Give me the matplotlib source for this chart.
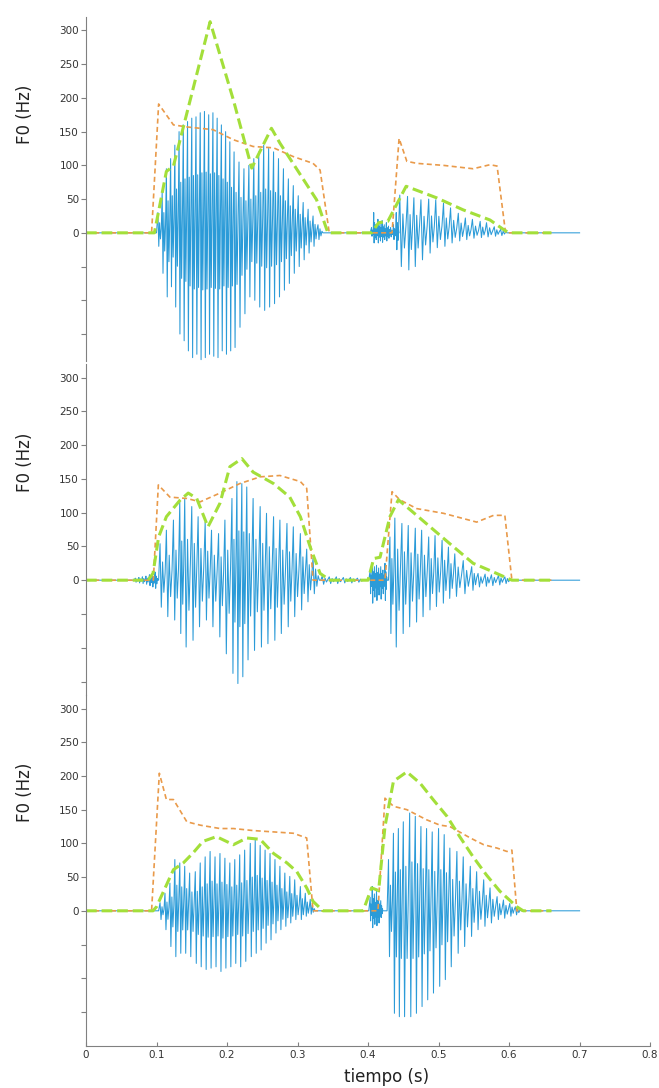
import numpy as np
import matplotlib.pyplot as plt

# ---- datos ----
# panel 1
p1_w1_t = [0.102, 0.108, 0.114, 0.120, 0.126, 0.132, 0.138, 0.144, 0.150, 0.156, 0.162, 0.168,
           0.174, 0.180, 0.186, 0.192, 0.198, 0.204, 0.210, 0.217, 0.224, 0.231, 0.238, 0.245,
           0.252, 0.259, 0.266, 0.273, 0.280, 0.287, 0.294, 0.301, 0.308, 0.315, 0.322, 0.329]
p1_w1_top = [30, 60, 95, 110, 130, 150, 160, 165, 170, 172, 178, 180, 175, 178, 170, 160, 150, 135,
             120, 105, 95, 100, 110, 120, 130, 125, 120, 110, 95, 80, 70, 55, 45, 35, 25, 12]
p1_w1_bot = [-20, -60, -95, -80, -110, -150, -160, -175, -185, -180, -188, -185, -180, -183, -185,
             -175, -180, -175, -170, -140, -120, -95, -100, -110, -115, -110, -105, -95, -85, -75,
             -60, -50, -40, -30, -20, -10]
p1_b_t = [0.405, 0.408, 0.411, 0.414, 0.417, 0.420, 0.423, 0.426, 0.429, 0.432, 0.436, 0.440]
p1_b_top = [8, 30, 12, 20, 15, 18, 12, 15, 10, 8, 12, 30]
p1_b_bot = [-5, -15, -10, -15, -12, -14, -10, -12, -8, -6, -10, -25]
p1_w2_t = [0.445, 0.456, 0.465, 0.475, 0.486, 0.496, 0.507, 0.517, 0.528, 0.538, 0.548, 0.559,
           0.568, 0.579, 0.588]
p1_w2_top = [56, 54, 52, 49, 50, 49, 44, 37, 29, 22, 20, 17, 15, 9, 5]
p1_w2_bot = [-50, -55, -50, -40, -30, -22, -20, -15, -12, -10, -8, -7, -6, -5, -4]

p1_f0_t = [0, 0.093, 0.103, 0.124, 0.143, 0.18, 0.209, 0.237, 0.266, 0.294, 0.322, 0.332, 0.345,
           0.434, 0.444, 0.455, 0.469, 0.507, 0.549, 0.573, 0.583, 0.595, 0.66]
p1_f0 = [0, 0, 191, 160, 157, 153, 138, 128, 126, 113, 103, 93, 0,
         0, 140, 106, 103, 100, 95, 101, 99, 0, 0]
p1_env_t = [0, 0.097, 0.114, 0.124, 0.176, 0.209, 0.235, 0.263, 0.275, 0.327, 0.343,
            0.405, 0.415, 0.428, 0.454, 0.497, 0.535, 0.573, 0.592, 0.6, 0.66]
p1_env = [0, 0, 91, 99, 313, 197, 96, 155, 133, 49, 0,
          0, 15, 17, 69, 52, 34, 19, 5, 0, 0]

# panel 2
p2_b0_t = [0.070, 0.075, 0.080, 0.085, 0.090, 0.094, 0.098]
p2_b0_top = [3, 4, 5, 6, 8, 10, 12]
p2_b0_bot = [-3, -4, -5, -6, -8, -10, -12]
p2_w1_t = [0.105, 0.114, 0.124, 0.133, 0.140, 0.150, 0.159, 0.169, 0.178, 0.188, 0.197, 0.207,
           0.214, 0.221, 0.228, 0.237, 0.247, 0.256, 0.266, 0.275, 0.285, 0.294, 0.304, 0.313, 0.322]
p2_w1_top = [54, 74, 89, 116, 121, 109, 94, 86, 74, 69, 89, 121, 146, 143, 138, 121, 109, 99, 94,
             89, 84, 79, 69, 46, 33]
p2_w1_bot = [-40, -54, -59, -79, -99, -89, -69, -59, -69, -84, -109, -138, -153, -143, -118, -104,
             -99, -94, -89, -79, -69, -54, -44, -32, -20]
p2_r_t = [0.335, 0.345, 0.355, 0.365, 0.375, 0.385]
p2_r_top = [6, 5, 5, 4, 4, 3]
p2_r_bot = [-6, -5, -5, -4, -4, -3]
p2_b_t = [0.403, 0.406, 0.409, 0.412, 0.415, 0.418, 0.421, 0.424]
p2_b_top = [15, 25, 20, 22, 18, 20, 15, 25]
p2_b_bot = [-20, -34, -25, -30, -22, -28, -20, -30]
p2_w2_t = [0.431, 0.438, 0.448, 0.457, 0.467, 0.476, 0.486, 0.495, 0.505, 0.514, 0.523, 0.535,
           0.547, 0.556, 0.566, 0.575, 0.585, 0.594]
p2_w2_top = [64, 92, 84, 81, 77, 74, 64, 66, 59, 49, 39, 29, 20, 10, 9, 8, 7, 5]
p2_w2_bot = [-79, -99, -79, -69, -62, -54, -44, -39, -34, -27, -24, -20, -15, -10, -9, -8, -7, -5]

p2_f0_t = [0, 0.0955, 0.1026, 0.119, 0.143, 0.162, 0.19, 0.218, 0.247, 0.275, 0.304, 0.313, 0.322,
           0.424, 0.434, 0.445, 0.469, 0.507, 0.554, 0.578, 0.594, 0.604, 0.66]
p2_f0 = [0, 0, 141, 123, 121, 116, 129, 143, 153, 155, 146, 136, 0,
         0, 131, 119, 106, 99, 86, 96, 96, 0, 0]
p2_env_t = [0, 0.088, 0.095, 0.103, 0.114, 0.133, 0.145, 0.157, 0.173, 0.19, 0.204, 0.221, 0.237,
            0.266, 0.289, 0.304, 0.318, 0.332, 0.346, 0.40, 0.408, 0.417, 0.431, 0.443, 0.46,
            0.488, 0.516, 0.549, 0.578, 0.604, 0.66]
p2_env = [0, 0, 10, 64, 94, 118, 129, 121, 79, 114, 168, 180, 160,
          143, 123, 94, 49, 10, 0, 0, 32, 34, 94, 119, 104,
          79, 54, 25, 12, 0, 0]

# panel 3
p3_w1_t = [0.105, 0.112, 0.119, 0.126, 0.133, 0.140, 0.147, 0.155, 0.162, 0.169, 0.176, 0.183,
           0.190, 0.197, 0.204, 0.211, 0.218, 0.225, 0.233, 0.240, 0.247, 0.254, 0.261, 0.268,
           0.275, 0.282, 0.289, 0.296, 0.304, 0.311, 0.318]
p3_w1_top = [12, 26, 41, 76, 71, 66, 56, 58, 71, 80, 88, 80, 85, 78, 71, 76, 83, 90, 100, 105, 97,
             90, 85, 76, 66, 56, 51, 46, 36, 26, 17]
p3_w1_bot = [-13, -28, -53, -68, -63, -63, -68, -78, -83, -87, -85, -83, -90, -85, -83, -78, -83,
             -75, -68, -63, -58, -48, -43, -33, -28, -23, -18, -13, -13, -8, -5]
p3_b_t = [0.403, 0.406, 0.409, 0.412, 0.415, 0.418]
p3_b_top = [20, 36, 25, 30, 20, 15]
p3_b_bot = [-15, -25, -20, -22, -18, -10]
p3_w2_t = [0.429, 0.436, 0.443, 0.450, 0.459, 0.467, 0.475, 0.483, 0.491, 0.500, 0.508, 0.516,
           0.526, 0.535, 0.545, 0.554, 0.564, 0.573, 0.583, 0.592, 0.601, 0.609]
p3_w2_top = [76, 115, 122, 132, 145, 140, 125, 122, 117, 122, 113, 93, 88, 80, 66, 58, 46, 34, 21,
             16, 11, 6]
p3_w2_bot = [-68, -152, -157, -157, -157, -152, -142, -132, -122, -112, -102, -83, -63, -53, -38,
             -28, -23, -18, -13, -11, -8, -6]

p3_f0_t = [0, 0.093, 0.104, 0.114, 0.124, 0.143, 0.162, 0.19, 0.209, 0.237, 0.266, 0.294, 0.313,
           0.322, 0.414, 0.424, 0.436, 0.455, 0.483, 0.502, 0.516, 0.545, 0.564, 0.583, 0.597,
           0.604, 0.611, 0.66]
p3_f0 = [0, 0, 204, 165, 165, 132, 127, 122, 122, 119, 117, 115, 108,
         0, 0, 167, 155, 150, 135, 127, 125, 108, 98, 93, 88,
         90, 0, 0]
p3_env_t = [0, 0.095, 0.1, 0.124, 0.138, 0.152, 0.166, 0.185, 0.209, 0.228, 0.247, 0.266, 0.285,
            0.299, 0.313, 0.322, 0.336, 0.393, 0.405, 0.415, 0.424, 0.436, 0.455, 0.474, 0.493,
            0.512, 0.53, 0.549, 0.568, 0.587, 0.611, 0.62, 0.66]
p3_env = [0, 0, 6, 61, 71, 86, 103, 110, 98, 108, 106, 85, 71,
          58, 34, 14, 0, 0, 34, 30, 125, 192, 206, 189, 164,
          140, 110, 80, 53, 29, 6, 0, 0]

yticks = [-150, -100, -50, 0, 50, 100, 150, 200, 250, 300]
ytick_labels = ['', '', '', '0', '50', '100', '150', '200', '250', '300']
xticks = [0, 0.1, 0.2, 0.3, 0.4, 0.5, 0.6, 0.7, 0.8]
xtick_labels = ['0', '0.1', '0.2', '0.3', '0.4', '0.5', '0.6', '0.7', '0.8']

azul = '#2b9bd8'
naranja = '#e99a4a'
verde = '#a3df3a'
gris = '#808080'


def onda(grupos):
    # cada pulso: subida al maximo, bajada al minimo y oscilaciones menores
    xs, ys = [0.0], [0.0]
    for t, top, bot in grupos:
        xs.append(t[0] - 0.002)
        ys.append(0.0)
        for i in range(len(t)):
            p = t[i + 1] - t[i] if i + 1 < len(t) else t[i] - t[i - 1]
            xs += [t[i], t[i] + 0.2 * p, t[i] + 0.4 * p, t[i] + 0.6 * p, t[i] + 0.8 * p]
            ys += [top[i], bot[i], 0.5 * top[i], 0.45 * bot[i], 0.2 * top[i]]
        xs.append(t[-1] + p)
        ys.append(0.0)
    xs.append(0.7)
    ys.append(0.0)
    return xs, ys


paneles = [
    dict(pos=[0.1305, 0.6682, 0.856, 0.3162], ylim=(-190, 320),
         grupos=[(p1_w1_t, p1_w1_top, p1_w1_bot), (p1_b_t, p1_b_top, p1_b_bot),
                 (p1_w2_t, p1_w2_top, p1_w2_bot)],
         f0=(p1_f0_t, p1_f0), env=(p1_env_t, p1_env)),
    dict(pos=[0.1305, 0.3612, 0.856, 0.3042], ylim=(-170, 320),
         grupos=[(p2_b0_t, p2_b0_top, p2_b0_bot), (p2_w1_t, p2_w1_top, p2_w1_bot),
                 (p2_r_t, p2_r_top, p2_r_bot), (p2_b_t, p2_b_top, p2_b_bot),
                 (p2_w2_t, p2_w2_top, p2_w2_bot)],
         f0=(p2_f0_t, p2_f0), env=(p2_env_t, p2_env)),
    dict(pos=[0.1305, 0.0389, 0.856, 0.3223], ylim=(-200, 320),
         grupos=[(p3_w1_t, p3_w1_top, p3_w1_bot), (p3_b_t, p3_b_top, p3_b_bot),
                 (p3_w2_t, p3_w2_top, p3_w2_bot)],
         f0=(p3_f0_t, p3_f0), env=(p3_env_t, p3_env)),
]

fig = plt.figure(figsize=(6.59, 10.88), dpi=100)

for k, pan in enumerate(paneles):
    ax = fig.add_axes(pan['pos'])
    ax.patch.set_alpha(0)
    xs, ys = onda(pan['grupos'])
    ax.plot(xs, ys, color=azul, lw=0.75)
    ax.plot(pan['f0'][0], pan['f0'][1], color=naranja, lw=1.2, ls=(0, (3, 2)))
    ax.plot(pan['env'][0], pan['env'][1], color=verde, lw=2.2, ls=(0, (3.5, 1.6)))
    ax.set_xlim(0, 0.8)
    ax.set_ylim(*pan['ylim'])
    for s in ['top', 'right']:
        ax.spines[s].set_visible(False)
    ax.spines['left'].set_color(gris)
    ax.spines['bottom'].set_color(gris)
    ax.set_yticks(yticks)
    ax.set_yticklabels(ytick_labels)
    ax.tick_params(axis='y', direction='out', length=3.5, color=gris, labelsize=7.5,
                   labelcolor='#333333', pad=1.5)
    ax.text(-0.108, 175, 'F0 (Hz)', transform=ax.get_yaxis_transform(), rotation=90,
            ha='center', va='center', fontsize=12, color='#222222')
    if k < 2:
        ax.spines['bottom'].set_visible(False)
        ax.set_xticks([])
    else:
        ax.set_xticks(xticks)
        ax.set_xticklabels(xtick_labels)
        ax.tick_params(axis='x', direction='in', length=3, color=gris, labelsize=7.5,
                       labelcolor='#333333', pad=3)

fig.text(387 / 659, 1 - 1077 / 1088, 'tiempo (s)', ha='center', va='center', fontsize=12,
         color='#222222')

fig.savefig('out.png', dpi=100)
